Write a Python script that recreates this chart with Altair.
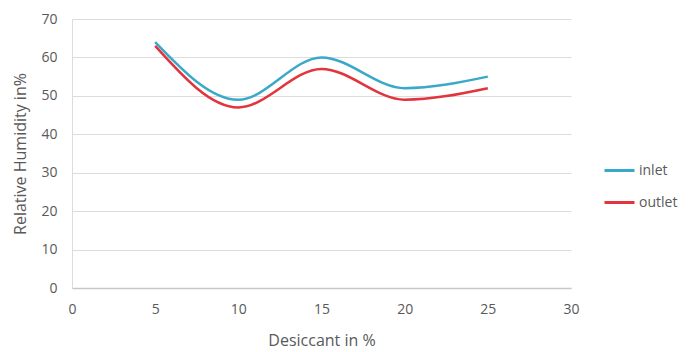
import altair as alt
import pandas as pd

desiccant = [5, 10, 15, 20, 25]
inlet = [64, 49, 60, 52, 55]
outlet = [63, 47, 57, 49, 52]
series_names = ["inlet", "outlet"]
colors = ["#3AA9C9", "#E2343D"]

rows = []
for name, vals in zip(series_names, [inlet, outlet]):
    for x, v in zip(desiccant, vals):
        rows.append({"Desiccant": x, "RH": v, "series": name})
df = pd.DataFrame(rows)

FONT = "Open Sans"
GRAY = "#595959"

chart = alt.Chart(df).mark_line(interpolate="monotone", strokeWidth=2.5).encode(
    x=alt.X("Desiccant:Q",
            scale=alt.Scale(domain=[0, 30], nice=False, zero=True),
            axis=alt.Axis(values=[0, 5, 10, 15, 20, 25, 30], title="Desiccant in %",
                          grid=False, ticks=False, labelPadding=14, titlePadding=16,
                          labelFlush=False,
                          domainColor="#C8C8C8", domainWidth=1.5)),
    y=alt.Y("RH:Q",
            scale=alt.Scale(domain=[0, 70], nice=False),
            axis=alt.Axis(values=[0, 10, 20, 30, 40, 50, 60, 70], title="Relative Humidity in%",
                          ticks=False, labelPadding=15, titlePadding=12,
                          gridColor="#DCDCDC", gridWidth=1.2,
                          domainColor="#DCDCDC", domainWidth=1)),
    color=alt.Color("series:N", scale=alt.Scale(domain=series_names, range=colors),
                    legend=alt.Legend(title=None, orient="none", legendX=531, legendY=135,
                                      symbolType="stroke", symbolSize=900, symbolStrokeWidth=3,
                                      rowPadding=8, labelOffset=3)),
).properties(
    width=499, height=269,
    autosize="none",
    padding={"left": 72, "top": 19, "right": 124, "bottom": 64},
).configure_view(stroke=None).configure_axis(
    labelFont=FONT, titleFont=FONT, labelColor=GRAY, titleColor=GRAY,
    labelFontSize=14, titleFontSize=16, titleFontWeight="normal",
).configure_legend(
    labelFont=FONT, labelColor=GRAY, labelFontSize=14,
)

chart.save("out.html", embed_options={"renderer": "svg", "actions": False})
